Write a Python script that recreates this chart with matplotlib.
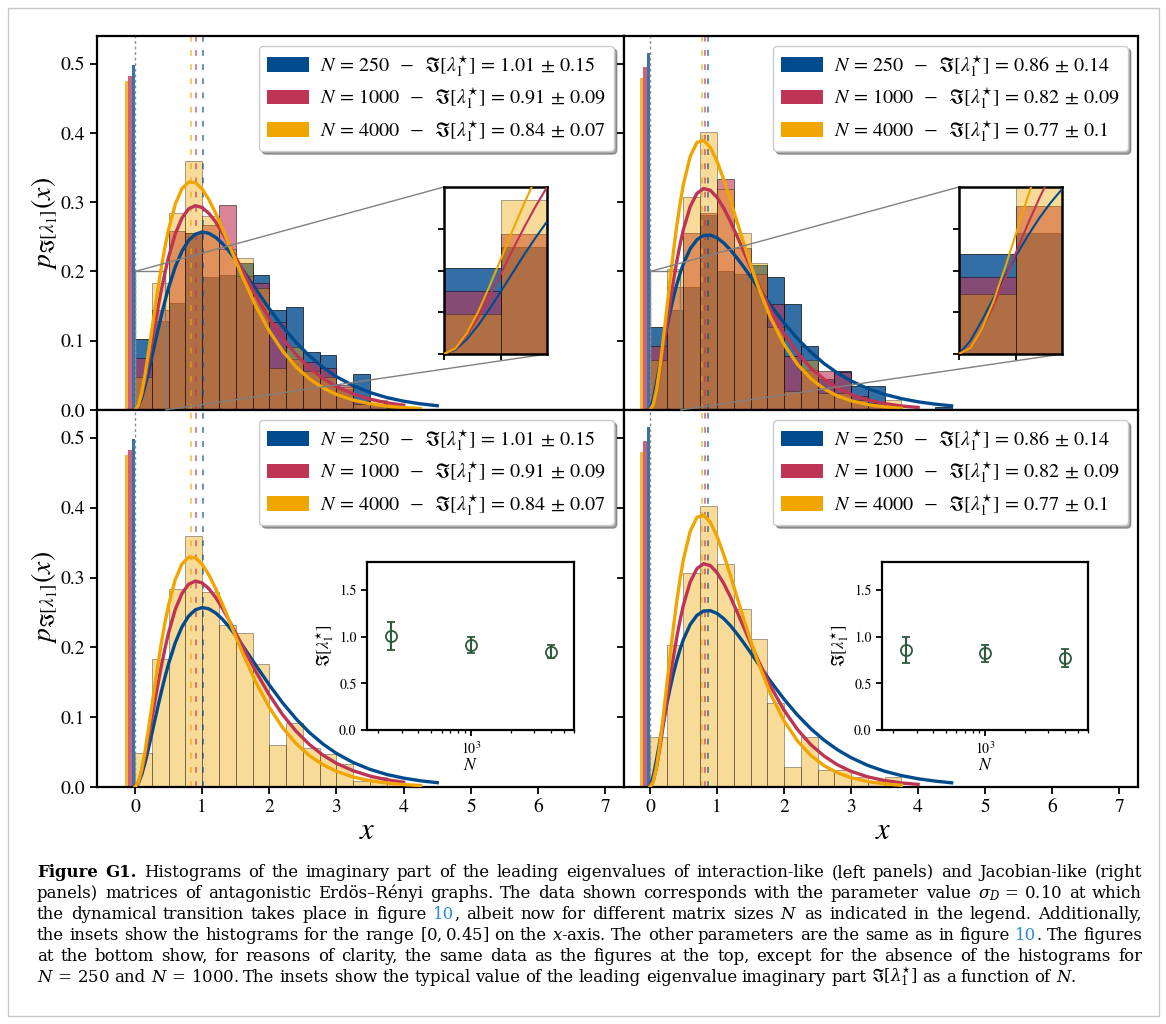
import numpy as np
import matplotlib
matplotlib.use("Agg")
import matplotlib.pyplot as plt
from matplotlib.patches import Patch, Rectangle
from mpl_toolkits.axes_grid1.inset_locator import mark_inset

plt.rcParams['font.family'] = ['STIXGeneral', 'DejaVu Serif']
plt.rcParams['mathtext.fontset'] = 'stix'

# ------------------------------------------------------------------ data
SIZES = [250, 1000, 4000]
SIZE_LABELS = ['250', '1000', '4000']

BIN_LEFT = [0.0, 0.25, 0.5, 0.75, 1.0, 1.25, 1.5, 1.75, 2.0, 2.25, 2.5, 2.75,
            3.0, 3.25, 3.5, 3.75, 4.0, 4.25]

# interaction-like matrices (left panels)
HIST_INT_250 = [0.103, 0.128, 0.155, 0.256, 0.192, 0.195, 0.212, 0.195, 0.144, 0.148,
                0.084, 0.080, 0.030, 0.052, 0.008, 0.004, 0.004, 0.0]
HIST_INT_1000 = [0.075, 0.144, 0.259, 0.256, 0.267, 0.296, 0.193, 0.183, 0.127, 0.073,
                 0.070, 0.060, 0.036, 0.013, 0.007, 0.003, 0.0, 0.0]
HIST_INT_4000 = [0.048, 0.184, 0.284, 0.360, 0.280, 0.232, 0.220, 0.176, 0.060, 0.091,
                 0.056, 0.047, 0.033, 0.009, 0.014, 0.007, 0.002, 0.0]
# Jacobian-like matrices (right panels)
HIST_JAC_250 = [0.120, 0.145, 0.177, 0.281, 0.200, 0.197, 0.209, 0.192, 0.153, 0.092,
                0.045, 0.056, 0.035, 0.034, 0.0, 0.0, 0.0, 0.005]
HIST_JAC_1000 = [0.092, 0.177, 0.255, 0.285, 0.334, 0.234, 0.197, 0.153, 0.078, 0.058,
                 0.057, 0.055, 0.020, 0.010, 0.005, 0.0, 0.0, 0.0]
HIST_JAC_4000 = [0.072, 0.203, 0.307, 0.402, 0.319, 0.255, 0.212, 0.120, 0.028, 0.072,
                 0.024, 0.025, 0.014, 0.009, 0.015, 0.0, 0.0, 0.0]

# fraction of purely real leading eigenvalues (bars just left of zero)
ZERO_LEFT = [-0.05, -0.10, -0.15]
ZERO_INT = [0.498, 0.482, 0.475]
ZERO_JAC = [0.515, 0.495, 0.480]

# typical values of Im[lambda_1*]
TYPICAL_INT = [1.01, 0.91, 0.84]
ERR_INT = [0.15, 0.09, 0.07]
TYPICAL_JAC = [0.86, 0.82, 0.77]
ERR_JAC = [0.14, 0.09, 0.1]

# fitted densities
CURVE_X = [0.0, 0.05, 0.1, 0.15, 0.2, 0.25, 0.3, 0.35, 0.4, 0.45, 0.5, 0.6, 0.7, 0.8,
           0.9, 1.0, 1.1, 1.2, 1.3, 1.4, 1.5, 1.6, 1.8, 2.0, 2.2, 2.4, 2.6, 2.8, 3.0,
           3.25, 3.5, 3.75, 4.0, 4.25, 4.5]
FIT_INT_250 = [0, .0052, .0176, .0346, .0544, .0756, .0973, .1188, .1393, .1586, .1764,
               .2067, .2294, .245, .2539, .257, .2552, .2494, .2406, .2295, .2168, .203,
               .1743, .1462, .1203, .0974, .0778, .0615, .0481, .035, .0252, .0179,
               .0127, .0089, .0062]
FIT_INT_1000 = [0, .0064, .0223, .0443, .0699, .0971, .1247, .1515, .1767, .1998, .2206,
                .2543, .2773, .2905, .295, .2923, .2841, .2717, .2562, .2389, .2205,
                .2018, .1652, .132, .1034, .0797, .0606, .0456, .0339, .0232, .0156,
                .0104, .0069]
FIT_INT_4000 = [0, .0067, .025, .0511, .0819, .1149, .1482, .1802, .2101, .237, .2606,
                .2971, .3195, .3292, .3283, .3192, .3038, .2844, .2623, .239, .2155,
                .1925, .15, .114, .0848, .062, .0447, .0319, .0224, .0143, .009, .0056,
                .0035, .0021]
FIT_JAC_250 = [0, .016, .0402, .0666, .0929, .118, .1413, .1624, .1811, .1974, .2115,
               .2327, .2458, .2521, .2526, .2487, .2412, .2312, .2193, .2063, .1927,
               .1787, .1513, .1258, .1031, .0835, .0669, .0532, .042, .0309, .0226,
               .0164, .0118, .0085, .006]
FIT_JAC_1000 = [0, .0085, .0293, .0573, .0892, .1224, .1551, .186, .2143, .2394, .261,
                .2936, .3127, .3198, .3172, .3071, .2916, .2724, .251, .2286, .2062,
                .1844, .1442, .1101, .0824, .0606, .0441, .0316, .0225, .0145, .0093,
                .0058, .0037]
FIT_JAC_4000 = [0, .0075, .0297, .0627, .1024, .145, .1878, .2285, .2657, .2985, .3262,
                .3661, .3862, .3894, .3792, .3593, .3329, .303, .2715, .2402, .2101,
                .1819, .1331, .0948, .066, .0452, .0304, .0202, .0133, .0078, .0045,
                .0025]

X_TICKS = [0, 1, 2, 3, 4, 5, 6, 7]
Y_TICKS = [0.0, 0.1, 0.2, 0.3, 0.4, 0.5]
INSET_N_TICKS = [0.0, 0.5, 1.0, 1.5]

CAPTION_LINES = [
    [("Figure", 'b'), ("G1.", 'b'), "Histograms", "of", "the", "imaginary", "part", "of",
     "the", "leading", "eigenvalues", "of", "interaction-like", "(left", "panels)", "and",
     "Jacobian-like", "(right"],
    "panels) matrices of antagonistic Erdös–Rényi graphs. The data shown corresponds "
    "with the parameter value $\\sigma_D\\,=\\,0.10$ at which".split(' '),
    "the dynamical transition takes place in figure".split(' ') + [[("10", 'c'), (",", 'n')]] +
    "albeit now for different matrix sizes $N$ as indicated in the legend. Additionally,".split(' '),
    "the insets show the histograms for the range $[0,0.45]$ on the $x$-axis. The other "
    "parameters are the same as in figure".split(' ') + [[("10", 'c'), (".", 'n')]] +
    ["The", "figures"],
    "at the bottom show, for reasons of clarity, the same data as the figures at the top, "
    "except for the absence of the histograms for".split(' '),
    "$N\\,=\\,250$ and $N\\,=\\,1000$. The insets show the typical value of the leading eigenvalue "
    "imaginary part $\\Im[\\lambda_1^{\\star}]$ as a function of $N$.".split(' '),
]

# ------------------------------------------------------------------ style
COL = ['#004B8D', '#BE3455', '#F0A500']
HIST_ALPHA = [0.8, 0.6, 0.4]
GREEN = '#2E5A3C'
LINK = '#2B8AD8'

W, H = 1166, 1024
fig = plt.figure(figsize=(W / 100, H / 100), dpi=100)
fig.patch.set_facecolor('white')


def box(x0, y0, x1, y1):
    return [x0 / W, 1 - y1 / H, (x1 - x0) / W, (y1 - y0) / H]


def style(ax, lw=1.6, size=14, length=5):
    for s in ax.spines.values():
        s.set_linewidth(lw)
    ax.tick_params(direction='out', length=length, width=1.3, labelsize=size)


def draw_hists(ax, hists, show):
    for i in show:
        ax.bar(BIN_LEFT, hists[i], width=0.25, align='edge', color=COL[i],
               alpha=HIST_ALPHA[i], edgecolor='k', linewidth=0.6, zorder=1)


def draw_curves(ax, fits, lw):
    for i in range(3):
        ax.plot(CURVE_X[:len(fits[i])], fits[i], color=COL[i], lw=lw, zorder=3)


def main_panel(rect, xlim, hists, show, zero_h, typical, err, fits, left, bottom):
    ax = fig.add_axes(box(*rect))
    draw_hists(ax, hists, show)
    for i in range(3):
        ax.bar(ZERO_LEFT[i], zero_h[i], width=0.05, align='edge', color=COL[i],
               alpha=0.78, linewidth=0, zorder=1.2)
    ax.axvline(0, color='0.55', lw=1.0, ls=(0, (2, 2)), zorder=1.4)
    for i in range(3):
        ax.axvline(typical[i], color=COL[i], lw=1.2, alpha=0.7, ls=(0, (3.5, 5)),
                   zorder=1.5)
    draw_curves(ax, fits, 2.4)
    ax.set_xlim(*xlim)
    ax.set_ylim(0, 0.54)
    ax.set_yticks(Y_TICKS)
    if left:
        ax.set_yticklabels([f'{v:.1f}' for v in Y_TICKS])
    else:
        ax.set_yticklabels([])
    if bottom:
        ax.set_xticks(X_TICKS)
        ax.set_xticklabels([str(v) for v in X_TICKS])
    else:
        ax.set_xticks([])
    style(ax)
    handles = [Patch(facecolor=c, edgecolor='none') for c in COL]
    labels = [r'$N\,=\,%s\;\;-\;\;\Im[\lambda_1^{\star}]\,=\,%s\,\pm\,%s$'
              % (SIZE_LABELS[i], f'{typical[i]:g}', f'{err[i]:g}') for i in range(3)]
    leg = ax.legend(handles, labels, loc='upper right', fontsize=14.5, fancybox=True,
                    shadow=True, framealpha=1, edgecolor='0.8', handlelength=2.1,
                    handleheight=0.75, labelspacing=0.34, borderpad=0.38,
                    handletextpad=0.55)
    leg.set_zorder(6)
    return ax


def hist_inset(ax, rect, hists, fits):
    axin = fig.add_axes(box(*rect))
    draw_hists(axin, hists, [0, 1, 2])
    draw_curves(axin, fits, 1.5)
    axin.set_xlim(0, 0.45)
    axin.set_ylim(0, 0.2)
    axin.set_xticks([0, 0.25])
    axin.set_yticks([0, 0.05, 0.1, 0.15])
    axin.set_xticklabels([])
    axin.set_yticklabels([])
    style(axin, lw=1.8, length=4)
    mark_inset(ax, axin, loc1=2, loc2=4, fc='none', ec='0.5', lw=1.0)
    return axin


def n_inset(rect, typical, err):
    axn = fig.add_axes(box(*rect))
    axn.errorbar(SIZES, typical, yerr=err, fmt='o', ms=8, mfc='none', mec=GREEN,
                 mew=1.3, ecolor=GREEN, elinewidth=1.5, capsize=3, capthick=1.5)
    axn.set_xscale('log')
    axn.set_xlim(164, 6000)
    axn.set_ylim(0, 1.8)
    axn.set_yticks(INSET_N_TICKS)
    axn.set_yticklabels([f'{v:.1f}' for v in INSET_N_TICKS])
    style(axn, lw=1.6, size=10, length=4)
    axn.tick_params(which='minor', length=2.5, width=0.9)
    axn.set_xlabel('$N$', fontsize=12.5, labelpad=1)
    axn.set_ylabel(r'$\Im[\lambda_1^{\star}]$', fontsize=12, labelpad=2)
    return axn


INT_H = [HIST_INT_250, HIST_INT_1000, HIST_INT_4000]
JAC_H = [HIST_JAC_250, HIST_JAC_1000, HIST_JAC_4000]
INT_F = [FIT_INT_250, FIT_INT_1000, FIT_INT_4000]
JAC_F = [FIT_JAC_250, FIT_JAC_1000, FIT_JAC_4000]

XL_LEFT = (-0.565, 7.28)
XL_RIGHT = (-0.387, 7.28)

axTL = main_panel((97, 36, 624, 410), XL_LEFT, INT_H, [0, 1, 2], ZERO_INT, TYPICAL_INT,
                  ERR_INT, INT_F, True, False)
axTR = main_panel((624, 36, 1138, 410), XL_RIGHT, JAC_H, [0, 1, 2], ZERO_JAC, TYPICAL_JAC,
                  ERR_JAC, JAC_F, False, False)
axBL = main_panel((97, 410, 624, 787), XL_LEFT, INT_H, [2], ZERO_INT, TYPICAL_INT,
                  ERR_INT, INT_F, True, True)
axBR = main_panel((624, 410, 1138, 787), XL_RIGHT, JAC_H, [2], ZERO_JAC, TYPICAL_JAC,
                  ERR_JAC, JAC_F, False, True)

hist_inset(axTL, (444, 187, 547, 354), INT_H, INT_F)
hist_inset(axTR, (959, 187, 1062, 354), JAC_H, JAC_F)
n_inset((367, 562, 574, 730), TYPICAL_INT, ERR_INT)
n_inset((882, 562, 1088, 730), TYPICAL_JAC, ERR_JAC)

# axis labels
ylab = r'$p_{\Im[\lambda_1]}(x)$'
fig.text(45 / W, 1 - 224 / H, ylab, rotation=90, ha='center', va='center', fontsize=20)
fig.text(45 / W, 1 - 598 / H, ylab, rotation=90, ha='center', va='center', fontsize=20)
fig.text(367 / W, 1 - 832 / H, '$x$', ha='center', va='center', fontsize=22)
fig.text(883 / W, 1 - 832 / H, '$x$', ha='center', va='center', fontsize=22)

# outer frame
fig.add_artist(Rectangle((8 / W, 1 - 1016 / H), (1159 - 8) / W, (1016 - 8) / H,
                         transform=fig.transFigure, fill=False, ec='#C8C8C8', lw=1.0))

# caption with justified lines
renderer = fig.canvas.get_renderer()
CAP_X0, CAP_X1 = 37, 1142
CAP_BASE = [877, 898, 919, 940, 961, 982]
CAP_FONT = 'DejaVu Serif'


def segs_of(w):
    if isinstance(w, tuple):
        return [w]
    if isinstance(w, list):
        return w
    return [(w, 'n')]


def build_caption(fs):
    rows = []
    for words in CAPTION_LINES:
        row = []
        for w in words:
            ts = []
            for s, st in segs_of(w):
                t = fig.text(0, 0, s, fontsize=fs, family=CAP_FONT,
                             math_fontfamily='dejavuserif',
                             weight='bold' if st == 'b' else 'normal',
                             color=LINK if st == 'c' else 'black', ha='left', va='baseline')
                ts.append(t)
            row.append(ts)
        rows.append(row)
    return rows


def widths_of(rows):
    out = []
    for row in rows:
        out.append([[t.get_window_extent(renderer).width for t in ts] for ts in row])
    return out


fs = 12.4
for _ in range(6):
    rows = build_caption(fs)
    wd = widths_of(rows)
    space = 0.30 * fs * 100 / 72
    ratio = 0
    for li in range(len(rows) - 1):
        nat = sum(sum(w) for w in wd[li]) + space * (len(wd[li]) - 1)
        ratio = max(ratio, nat / (CAP_X1 - CAP_X0))
    if ratio <= 1.0:
        break
    for row in rows:
        for ts in row:
            for t in ts:
                t.remove()
    fs = fs * 0.995 / ratio

space = 0.30 * fs * 100 / 72
for li, row in enumerate(rows):
    tot = sum(sum(w) for w in wd[li])
    n = len(row)
    if li < len(rows) - 1 and n > 1:
        gap = (CAP_X1 - CAP_X0 - tot) / (n - 1)
    else:
        gap = space
    x = CAP_X0
    yb = CAP_BASE[li]
    for ts, ws in zip(row, wd[li]):
        for t, w in zip(ts, ws):
            t.set_position((x / W, 1 - yb / H))
            x += w
        x += gap

fig.savefig('out.png', dpi=100, facecolor='white')
